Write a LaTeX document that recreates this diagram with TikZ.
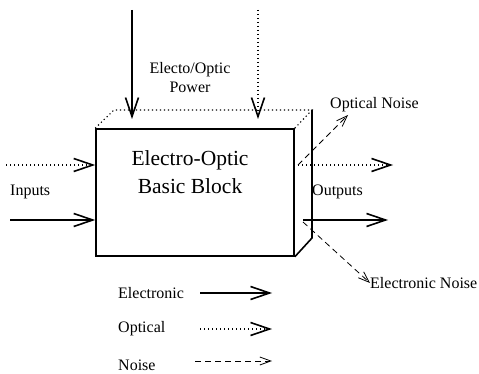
\documentclass[tikz,border=0pt]{standalone}
\usepackage{fontspec}
\setmainfont{Liberation Serif}
\usepackage{tikz}
\usetikzlibrary{
    positioning,
    arrows.meta
}

\begin{document}
\begin{tikzpicture}[
      x=1pt, y=-1pt,
      box/.style={rectangle, draw, line width=1.6pt, minimum width=198pt,
          minimum height=127pt, inner sep=0pt},
      elec/.style={line width=1.6pt, -{Straight Barb[length=19pt, width=13pt, line width=1.6pt]}},
      optic/.style={line width=1.1pt, dash pattern=on 1.2pt off 2.8pt,
          -{Straight Barb[length=19pt, width=13pt, line width=1.6pt]}},
      noise/.style={line width=0.8pt, dash pattern=on 6pt off 4pt,
          -{Straight Barb[length=11pt, width=8pt, line width=0.8pt]}},
      edge/.style={line width=1.6pt},
      dotedge/.style={line width=1.1pt, dash pattern=on 1.2pt off 2.8pt},
      lbl/.style={font=\fontsize{16}{19}\selectfont, inner sep=0pt, anchor=west},
      title/.style={font=\fontsize{21.5}{28}\selectfont, align=center, inner sep=0pt}
    ]
    \useasboundingbox (0,0) rectangle (479,374);

    % the block and its depth
    \node[box] (front) at (195,192.5) {};
    \node[title] (name) at (190,172) {Electro-Optic\\Basic Block};
    \coordinate (backNW) at (114,110);
    \coordinate (backNE) at (312,110);
    \coordinate (backSE) at (312,238);
    \draw[dotedge] (front.north west) -- (backNW) -- (backNE) -- (front.north east);
    \draw[edge] (backNE) -- (backSE) -- (front.south east);

    % power
    \coordinate (pwrE) at (132,10);
    \coordinate (pwrEin) at (132,119);
    \coordinate (pwrO) at (258,10);
    \coordinate (pwrOin) at (258,119);
    \draw[elec] (pwrE) -- (pwrEin);
    \draw[optic] (pwrO) -- (pwrOin);
    \node[font=\fontsize{16}{19}\selectfont, align=center, inner sep=0pt] (power) at (190,78) {Electo/Optic\\Power};

    % inputs
    \coordinate (inO) at (6,165);
    \coordinate (inE) at (10,220);
    \draw[optic] (inO) -- (front.west |- inO);
    \draw[elec] (inE) -- (front.west |- inE);
    \node[lbl] (inputs) at (10,192) {Inputs};

    % outputs
    \coordinate (outOa) at (298,165);
    \coordinate (outOb) at (393,165);
    \coordinate (outEa) at (303,220);
    \coordinate (outEb) at (388,220);
    \draw[optic] (outOa) -- (outOb);
    \draw[elec] (outEa) -- (outEb);
    \node[lbl] (outputs) at (312,192) {Outputs};

    % noise
    \coordinate (noiseEa) at (303,222);
    \coordinate (noiseOb) at (348,115);
    \node[lbl] (optnoise) at (330,105) {Optical Noise};
    \node[lbl] (elecnoise) at (370,283) {Electronic Noise};
    \draw[noise] (outOa) -- (noiseOb);
    \draw[noise] (noiseEa) -- (elecnoise.west);

    % legend
    \node[lbl] (legE) at (118,293) {Electronic};
    \node[lbl] (legO) at (118,329) {Optical};
    \node[lbl] (legN) at (118,365) {Noise};
    \coordinate (legEa) at (200,293);
    \coordinate (legEb) at (272,293);
    \coordinate (legOa) at (200,329);
    \coordinate (legOb) at (272,329);
    \coordinate (legNa) at (195,361);
    \coordinate (legNb) at (272,361);
    \draw[elec] (legEa) -- (legEb);
    \draw[optic] (legOa) -- (legOb);
    \draw[noise] (legNa) -- (legNb);
  \end{tikzpicture}
\end{document}
